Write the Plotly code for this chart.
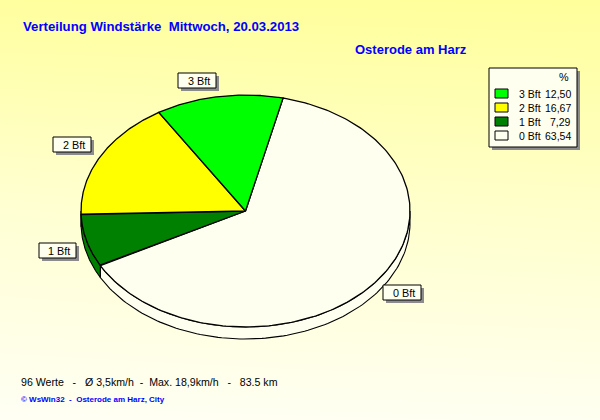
import numpy as np
import plotly.graph_objects as go

# Data
categories = ["0 Bft", "1 Bft", "2 Bft", "3 Bft"]
percent = [63.54, 7.29, 16.67, 12.50]
colors = ["#FFFFF0", "#008000", "#FFFF00", "#00FF00"]
legend_order = [3, 2, 1, 0]
title = "Verteilung Windstärke\u00a0\u00a0Mittwoch, 20.03.2013"
station = "Osterode am Harz"
footer = "96 Werte\u00a0\u00a0\u00a0-\u00a0\u00a0\u00a0Ø 3,5km/h\u00a0\u00a0-\u00a0\u00a0Max. 18,9km/h\u00a0\u00a0\u00a0-\u00a0\u00a0\u00a083.5 km"
credit = "© WsWin32\u00a0\u00a0-\u00a0\u00a0Osterode am Harz, City"

# Pie geometry
CX, CY, RX, RY, DEPTH = 245.5, 211, 164.5, 116, 12
START = 13.2


def ex(a):
    return CX + RX * np.sin(np.radians(a))


def ey(a, off=0):
    return CY - RY * np.cos(np.radians(a)) + off


fig = go.Figure()

# Background gradient
gx = [-50, 300, 650]
gy = [-50, 210, 470]
gz = [[146, 145, 144], [212, 206, 202], [252, 251, 250]]
fig.add_trace(go.Heatmap(x=gx, y=gy, z=gz, zmin=140, zmax=255, zsmooth="best", showscale=False,
                         colorscale=[[0, "rgb(255,255,140)"], [1, "rgb(255,255,255)"]], hoverinfo="skip"))

edges = START + np.concatenate([[0], np.cumsum(percent)]) * 360 / sum(percent)

# Rim, front half of the pie only
for i in range(len(percent)):
    a0, a1 = max(edges[i], 90), min(edges[i + 1], 270)
    if a1 <= a0:
        continue
    t = np.linspace(a0, a1, 120)
    xs = np.concatenate([ex(t), ex(t[::-1])])
    ys = np.concatenate([ey(t), ey(t[::-1], DEPTH)])
    fig.add_trace(go.Scatter(x=np.append(xs, xs[0]), y=np.append(ys, ys[0]), mode="lines", fill="toself",
                             fillcolor=colors[i], line=dict(color="black", width=1.1), hoverinfo="skip"))

# Top slices
for i in range(len(percent)):
    t = np.linspace(edges[i], edges[i + 1], 200)
    xs = np.concatenate([[CX], ex(t), [CX]])
    ys = np.concatenate([[CY], ey(t), [CY]])
    fig.add_trace(go.Scatter(x=xs, y=ys, mode="lines", fill="toself", fillcolor=colors[i],
                             line=dict(color="black", width=1.3), hoverinfo="skip"))

shapes = []
annos = []


def box(x0, y0, x1, y1, shadow=3):
    shapes.append(dict(type="rect", xref="x", yref="y", x0=x0 + shadow, y0=y0 + shadow, x1=x1 + shadow, y1=y1 + shadow,
                       fillcolor="#8c8c8c", line=dict(width=0)))
    shapes.append(dict(type="rect", xref="x", yref="y", x0=x0, y0=y0, x1=x1, y1=y1,
                       fillcolor="#FFFFF0", line=dict(color="black", width=1)))


def text(x, y, s, size=10.8, color="black", anchor="left", bold=False, family="Liberation Sans"):
    annos.append(dict(x=x, y=y, xref="x", yref="y", text=f"<b>{s}</b>" if bold else s, showarrow=False,
                      xanchor=anchor, yanchor="middle", font=dict(size=size, color=color, family=family),
                      borderpad=0, borderwidth=0))


# Slice labels
label_boxes = {"3 Bft": (178, 73, 216, 88), "2 Bft": (53, 137, 91, 152),
               "1 Bft": (39, 243, 76, 258), "0 Bft": (383, 285, 421, 300)}
for name in categories:
    x0, y0, x1, y1 = label_boxes[name]
    box(x0, y0, x1, y1)
    text(x1 - 6, (y0 + y1) / 2, name, anchor="right")

# Legend
box(489, 68, 577, 147)
text(559, 77, "%")
for row, i in enumerate(legend_order):
    yc = 93.5 + row * 14
    shapes.append(dict(type="rect", xref="x", yref="y", x0=495, x1=508, y0=yc - 4.5, y1=yc + 4.5,
                       fillcolor=colors[i], line=dict(color="black", width=1)))
    text(519, yc, categories[i], size=10.5)
    text(571, yc, f"{percent[i]:.2f}".replace(".", ","), size=10.5, anchor="right")

# Titles
text(23, 26, title, size=13.2, color="#0000FF", bold=True)
text(355, 49, station, size=13, color="#0000FF", bold=True)
text(21, 382, footer, size=10.6)
text(21, 399, credit, size=8, color="#0000FF", bold=True)

fig.update_layout(
    width=600, height=420, margin=dict(l=0, r=0, t=0, b=0), showlegend=False,
    paper_bgcolor="#FFFFF0", plot_bgcolor="rgba(0,0,0,0)",
    xaxis=dict(range=[0, 600], visible=False, fixedrange=True),
    yaxis=dict(range=[420, 0], visible=False, fixedrange=True),
    shapes=shapes, annotations=annos,
)
fig.write_html("out.html", config={"displayModeBar": False},
               post_script="document.body.style.margin='0';document.body.style.overflow='hidden';")
